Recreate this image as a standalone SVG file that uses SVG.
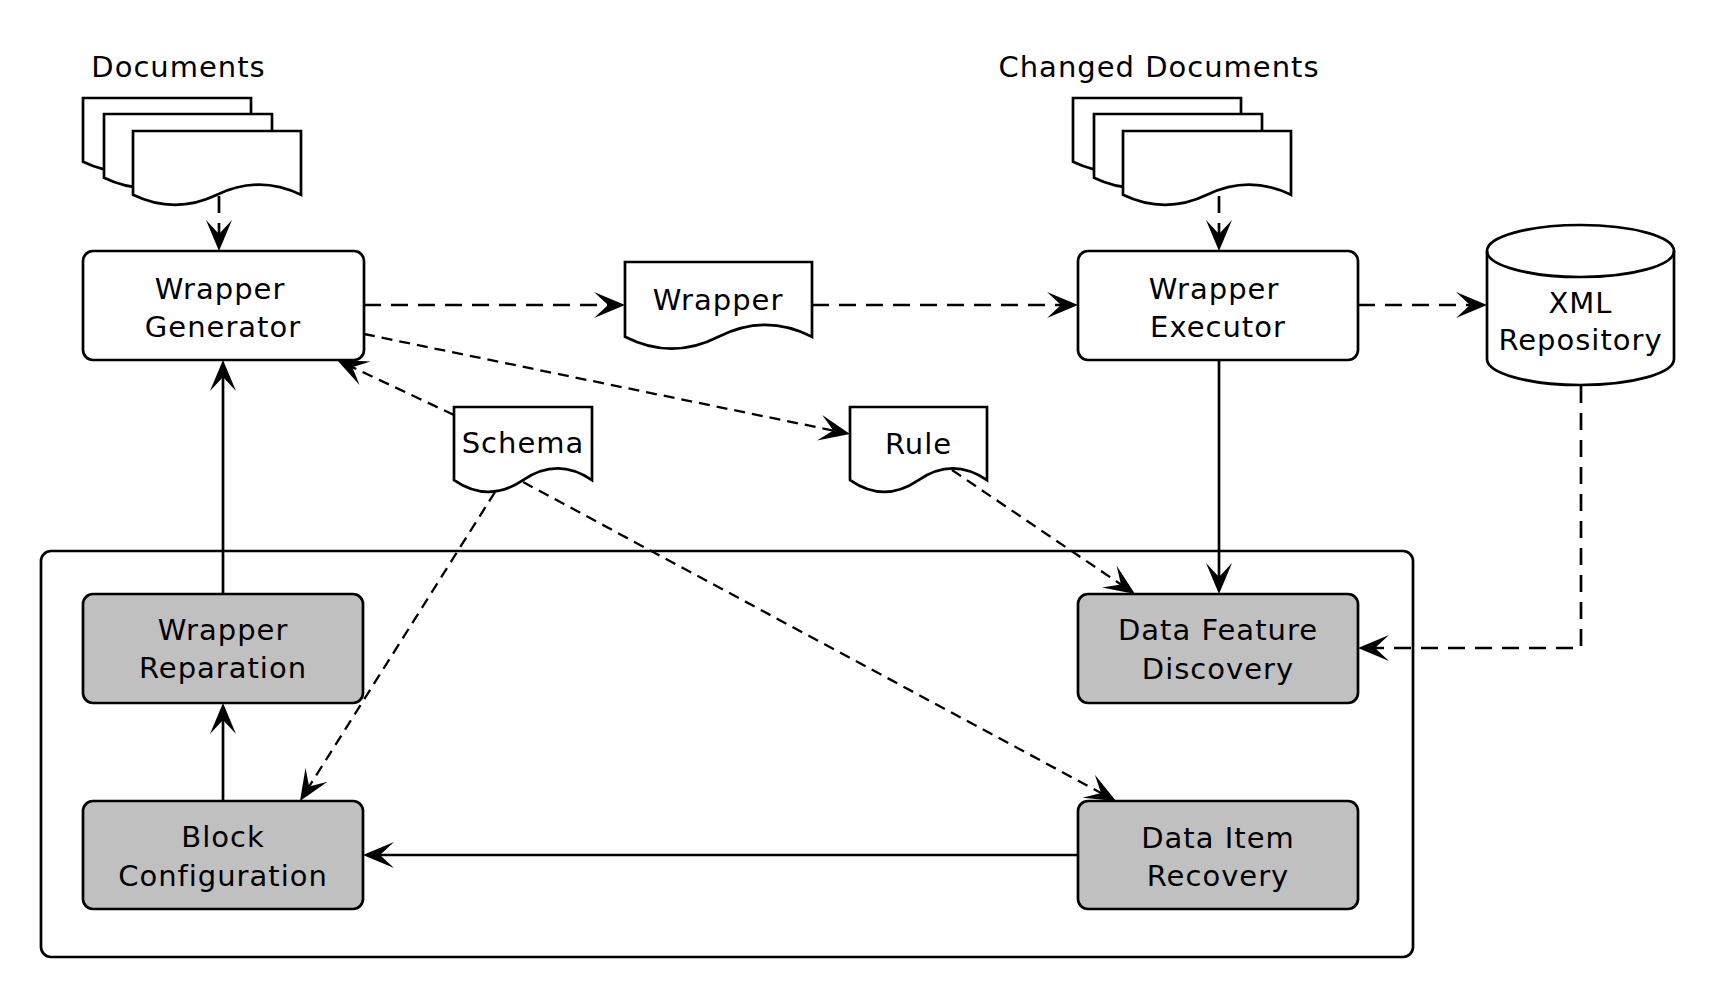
<svg xmlns="http://www.w3.org/2000/svg" width="1714" height="1000" viewBox="0 0 1714 1000">
<style>
  .box{fill:#ffffff;stroke:#000;stroke-width:2.7}
  .grey{fill:#c0c0c0;stroke:#000;stroke-width:2.7}
  .doc{fill:#ffffff;stroke:#000;stroke-width:2.7;stroke-linejoin:miter}
  .t{font-family:"DejaVu Sans",sans-serif;font-size:29px;letter-spacing:1px;text-anchor:middle;fill:#000}
  .solid{fill:none;stroke:#000;stroke-width:2.7}
  .dash{fill:none;stroke:#000;stroke-width:2.7;stroke-dasharray:17 10}
  .dthin{fill:none;stroke:#000;stroke-width:2.3;stroke-dasharray:11 7}
</style>
<defs>
  <marker id="ah" viewBox="-18 -14 34 28" markerWidth="34" markerHeight="28" refX="0" refY="0" orient="auto" markerUnits="userSpaceOnUse">
    <path d="M15,0 L-16,-13 L-2,0 L-16,13 Z" fill="#000"/>
  </marker>
</defs>
<rect width="1714" height="1000" fill="#ffffff"/>

<g id="container">
  <rect x="41" y="551" width="1372" height="406" rx="10" fill="none" stroke="#000" stroke-width="2.7"/>
</g>

<g id="documents">
  <text class="t" x="178.5" y="77">Documents</text>
  <path class="doc" d="M83,98 H251 V161.75 Q209,141.5 167,161.75 Q125,182 83,161.75 Z"/>
  <path class="doc" d="M104,114 H272 V177.75 Q230,157.5 188,177.75 Q146,198 104,177.75 Z"/>
  <path class="doc" d="M133,131 H301 V194.75 Q259,174.5 217,194.75 Q175,215 133,194.75 Z"/>
</g>

<g id="changed-documents">
  <text class="t" x="1159" y="77">Changed Documents</text>
  <path class="doc" d="M1073,98 H1241 V161.75 Q1199,141.5 1157,161.75 Q1115,182 1073,161.75 Z"/>
  <path class="doc" d="M1094,114 H1262 V177.75 Q1220,157.5 1178,177.75 Q1136,198 1094,177.75 Z"/>
  <path class="doc" d="M1123,131 H1291 V194.75 Q1249,174.5 1207,194.75 Q1165,215 1123,194.75 Z"/>
</g>

<g id="wrapper-generator">
  <rect class="box" x="83" y="251" width="281" height="109" rx="10"/>
  <text class="t" x="220" y="299">Wrapper</text>
  <text class="t" x="223" y="337">Generator</text>
</g>

<g id="wrapper-doc">
  <path class="doc" d="M625,262 H812 V336.8 Q765.25,313 718.5,336.8 Q671.75,360.6 625,336.8 Z"/>
  <text class="t" x="718" y="310">Wrapper</text>
</g>

<g id="wrapper-executor">
  <rect class="box" x="1078" y="251" width="280" height="109" rx="10"/>
  <text class="t" x="1214" y="299">Wrapper</text>
  <text class="t" x="1218" y="337">Executor</text>
</g>

<g id="xml-repository">
  <path class="box" d="M1487,251 A93.5,26 0 0 1 1674,251 V359 A93.5,26 0 0 1 1487,359 Z"/>
  <path class="solid" d="M1487,251 A93.5,26 0 0 0 1674,251"/>
  <text class="t" x="1580.5" y="313">XML</text>
  <text class="t" x="1580.5" y="350">Repository</text>
</g>

<g id="schema">
  <path class="doc" d="M454,407 H592 V480.1 Q557.5,456.6 523,480.1 Q488.5,503.6 454,480.1 Z"/>
  <text class="t" x="523" y="453">Schema</text>
</g>

<g id="rule">
  <path class="doc" d="M850,407 H987 V480.1 Q952.75,456.6 918.5,480.1 Q884.25,503.6 850,480.1 Z"/>
  <text class="t" x="918.5" y="454">Rule</text>
</g>

<g id="wrapper-reparation">
  <rect class="grey" x="83" y="594" width="280" height="109" rx="10"/>
  <text class="t" x="223" y="640">Wrapper</text>
  <text class="t" x="223" y="678">Reparation</text>
</g>

<g id="block-configuration">
  <rect class="grey" x="83" y="801" width="280" height="108" rx="10"/>
  <text class="t" x="223" y="847">Block</text>
  <text class="t" x="223" y="886">Configuration</text>
</g>

<g id="data-feature-discovery">
  <rect class="grey" x="1078" y="594" width="280" height="109" rx="10"/>
  <text class="t" x="1218" y="640">Data Feature</text>
  <text class="t" x="1218" y="679">Discovery</text>
</g>

<g id="data-item-recovery">
  <rect class="grey" x="1078" y="801" width="280" height="108" rx="10"/>
  <text class="t" x="1218" y="848">Data Item</text>
  <text class="t" x="1218" y="886">Recovery</text>
</g>

<g id="connectors">
  <path class="dash" d="M219,196 V236" marker-end="url(#ah)"/>
  <path class="dash" d="M1219,196 V236" marker-end="url(#ah)"/>
  <path class="dash" d="M364,305 H610" marker-end="url(#ah)"/>
  <path class="dash" d="M812,305 H1063" marker-end="url(#ah)"/>
  <path class="dash" d="M1358,305 H1472" marker-end="url(#ah)"/>
  <path class="dthin" d="M364,334 L835.3,431" marker-end="url(#ah)"/>
  <path class="dthin" d="M454,415 L350.6,366.4" marker-end="url(#ah)"/>
  <path class="dthin" d="M495,492 L308,788.3" marker-end="url(#ah)"/>
  <path class="dthin" d="M523,482 L1102.8,793.9" marker-end="url(#ah)"/>
  <path class="dthin" d="M952,470 L1122.6,585.6" marker-end="url(#ah)"/>
  <path class="solid" d="M1219,360 V579" marker-end="url(#ah)"/>
  <path class="dash" d="M1581,386 V648 H1373" marker-end="url(#ah)"/>
  <path class="solid" d="M223,594 V375" marker-end="url(#ah)"/>
  <path class="solid" d="M223,801 V718" marker-end="url(#ah)"/>
  <path class="solid" d="M1078,855 H378" marker-end="url(#ah)"/>
</g>
</svg>
